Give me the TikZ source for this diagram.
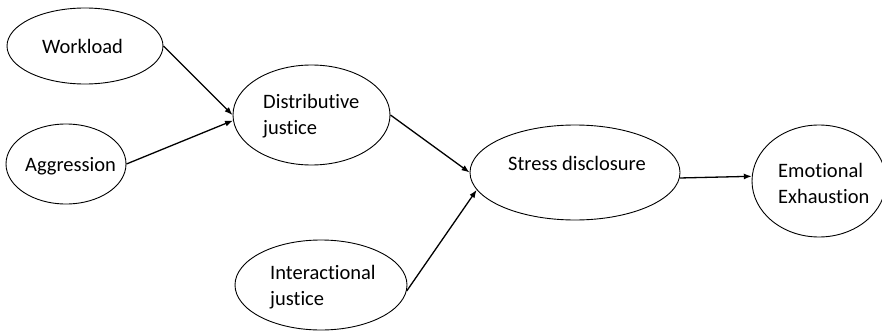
\documentclass[tikz,border=0pt]{standalone}
\usepackage{fontspec}
\setmainfont{Carlito}[Ligatures=NoCommon]
\usetikzlibrary{shapes.geometric,arrows.meta}
\begin{document}
\begin{tikzpicture}[x=1pt,y=-1pt,
  oval/.style={draw=black,line width=0.9pt,ellipse,inner sep=0pt},
  lbl/.style={anchor=base west,inner sep=0pt,font=\fontsize{20.5}{25.5}\selectfont,align=left},
  arr/.style={line width=1.3pt,-{Latex[length=8pt,width=6pt]}}]
\useasboundingbox[fill=white] (0,0) rectangle (882,334);
\node[oval,minimum width=156pt,minimum height=76pt] (work) at (85,46) {};
\node[oval,minimum width=120pt,minimum height=80pt] (aggr) at (66,164) {};
\node[oval,minimum width=157pt,minimum height=100pt] (dist) at (311.5,115) {};
\node[oval,minimum width=210pt,minimum height=95pt] (stress) at (575,172.5) {};
\node[oval,minimum width=134pt,minimum height=112pt] (emot) at (819,181) {};
\node[oval,minimum width=172pt,minimum height=90pt] (inter) at (321,285) {};
\node[lbl] (twork) at (42,54) {Workload};
\node[lbl] (taggr) at (25,171) {Aggression};
\node[lbl] (tdist) at (263,134) {Distributive\\justice};
\node[lbl] (tstress) at (508,170) {Stress disclosure};
\node[lbl] (temot) at (778,203) {Emotional\\Exhaustion};
\node[lbl] (tinter) at (270,305) {Interactional\\justice};
\draw[arr] (work.east) -- (dist.west);
\draw[arr] (aggr.east) -- (dist.184);
\draw[arr] (dist.east) -- (stress.west);
\draw[arr] (inter.356) -- (stress.190);
\draw[arr] (stress.357) -- (emot.176);
\end{tikzpicture}
\end{document}
